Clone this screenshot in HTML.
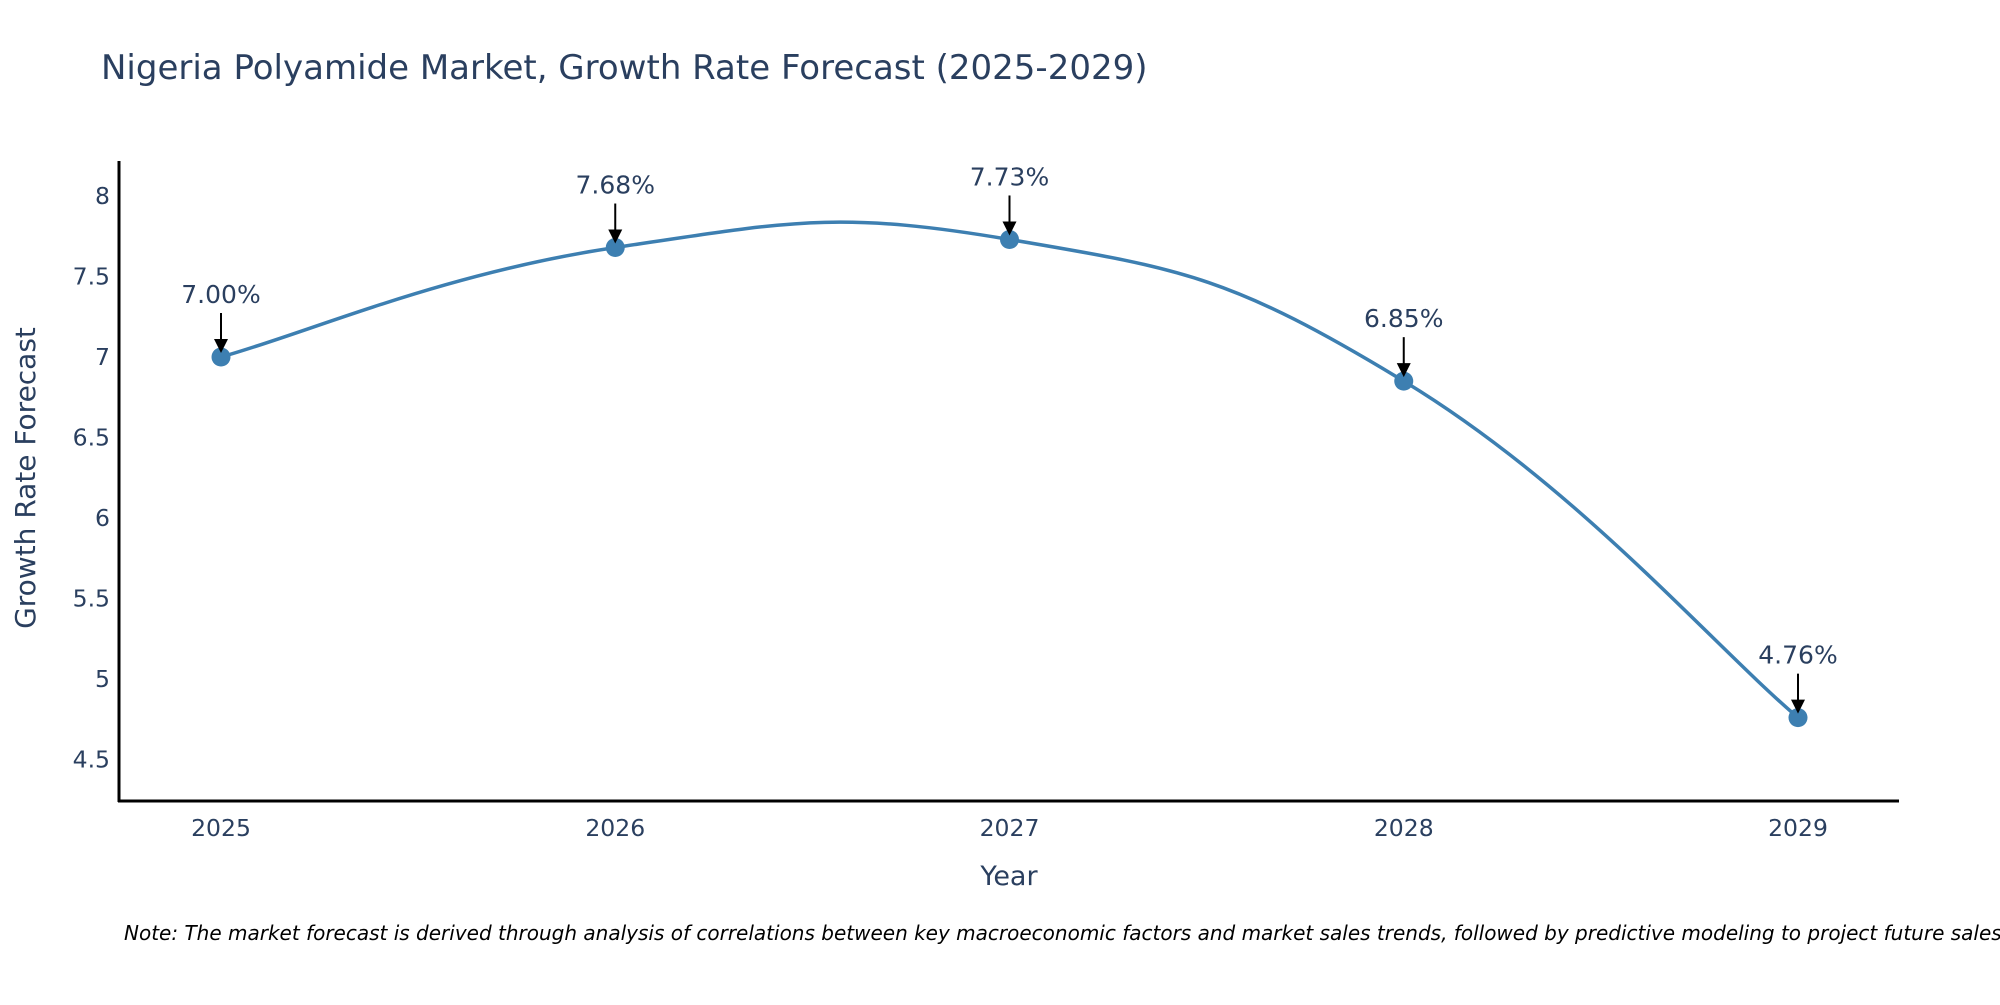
<!DOCTYPE html>
<html><head><meta charset="utf-8"><style>
body{margin:0;background:#fff;font-family:"Liberation Sans","DejaVu Sans",sans-serif;}
svg text{font-family:"DejaVu Sans","Liberation Sans",sans-serif;}
</style></head><body>
<svg id="chart" width="2000" height="1000" xmlns="http://www.w3.org/2000/svg">
<text x="101" y="79" font-size="34" fill="#2a3f5f">Nigeria Polyamide Market, Growth Rate Forecast (2025-2029)</text>
<g id="yticks"></g>
<g id="xticks"></g>
<line x1="119" y1="161" x2="119" y2="802" stroke="#000" stroke-width="3"/>
<line x1="118" y1="801" x2="1899" y2="801" stroke="#000" stroke-width="3"/>
<text transform="translate(35,478) rotate(-90)" text-anchor="middle" font-size="28" fill="#2a3f5f">Growth Rate Forecast</text>
<text x="1009" y="885" text-anchor="middle" font-size="27" fill="#2a3f5f">Year</text>
<g id="series"></g>
<g id="annots"></g>
<text x="124" y="940" font-size="20" font-style="italic" fill="#000">Note: The market forecast is derived through analysis of correlations between key macroeconomic factors and market sales trends, followed by predictive modeling to project future sales.</text>
</svg>
<script>
const years = [2025, 2026, 2027, 2028, 2029];
const growth = [7.00, 7.68, 7.73, 6.85, 4.76];
const labels = ["7.00%", "7.68%", "7.73%", "6.85%", "4.76%"];
const yTicks = [4.5, 5, 5.5, 6, 6.5, 7, 7.5, 8];
const NS = "http://www.w3.org/2000/svg";
function xs(y){return 221 + (y-2025)*394.25;}
function ys(v){return 357 - (v-7)*161;}
function mk(tag, attrs, parent){const e=document.createElementNS(NS,tag);for(const k in attrs)e.setAttribute(k,attrs[k]);parent.appendChild(e);return e;}
const yt=document.getElementById('yticks');
yTicks.forEach(t=>{const e=mk('text',{x:110,y:ys(t)+8,'text-anchor':'end','font-size':23.5,fill:'#2a3f5f'},yt);


e.textContent=String(t);});
const xt=document.getElementById('xticks');
years.forEach(y=>{const e=mk('text',{x:xs(y),y:836,'text-anchor':'middle','font-size':23.5,fill:'#2a3f5f'},xt);


e.textContent=String(y);});
const pts=years.map((y,i)=>[xs(y),ys(growth[i])]);
let d=`M${pts[0][0]},${pts[0][1]}`;
for(let i=0;i<pts.length-1;i++){const p0=pts[Math.max(0,i-1)],p1=pts[i],p2=pts[i+1],p3=pts[Math.min(pts.length-1,i+2)];
const k=0.22;
d+=` C${p1[0]+(p2[0]-p0[0])*k},${p1[1]+(p2[1]-p0[1])*k} ${p2[0]-(p3[0]-p1[0])*k},${p2[1]-(p3[1]-p1[1])*k} ${p2[0]},${p2[1]}`;}
const s=document.getElementById('series');
const line=mk('path',{d:d,fill:'none',stroke:'#3d7fb1','stroke-width':3.5},s);


const an=document.getElementById('annots');
pts.forEach((p,i)=>{const c=mk('circle',{cx:p[0],cy:p[1],r:9.5,fill:'#3d7fb1'},s);


const l=mk('line',{x1:p[0],y1:p[1]-44,x2:p[0],y2:p[1]-16,stroke:'#000','stroke-width':2},an);


const h=mk('polygon',{points:`${p[0]-7},${p[1]-18} ${p[0]+7},${p[1]-18} ${p[0]},${p[1]-4}`,fill:'#000'},an);


const t=mk('text',{x:p[0],y:p[1]-54,'text-anchor':'middle','font-size':25,fill:'#2a3f5f'},an);


t.textContent=labels[i];});
</script>
</body></html>
